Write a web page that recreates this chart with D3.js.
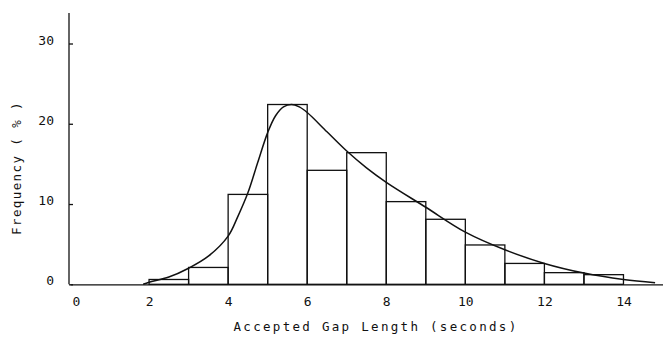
<!DOCTYPE html>
<html>
<head>
<meta charset="utf-8">
<script src="https://cdn.jsdelivr.net/npm/d3@7"></script>
<style>
  body { margin: 0; background: #fff; }
  text { font-family: "DejaVu Sans Mono", monospace; fill: #111; }
</style>
</head>
<body>
<svg id="chart" width="663" height="344"></svg>
<script>
// histogram bins (lower edge, seconds) and frequency (%)
const binStart = [2, 3, 4, 5, 6, 7, 8, 9, 10, 11, 12, 13]
const binFreq = [0.6, 2.1, 11.2, 22.4, 14.2, 16.4, 10.3, 8.1, 4.9, 2.6, 1.45, 1.2]

// fitted curve
const curveX = [1.85, 2.0, 2.5, 3.0, 3.5, 4.0, 4.25, 4.5, 4.75, 5.0, 5.2, 5.4, 5.6, 5.8, 6.0, 6.5, 7.0, 7.5, 8.0, 9.0, 10.0, 11.0, 12.0, 13.0, 14.0, 14.8]
const curveY = [0, 0.25, 0.9, 2.0, 3.5, 6.0, 8.5, 11.4, 15.2, 18.9, 21.0, 22.1, 22.4, 22.1, 21.4, 19.0, 16.6, 14.5, 12.7, 9.6, 6.5, 4.3, 2.6, 1.4, 0.6, 0.2]

const xTicks = [0, 2, 4, 6, 8, 10, 12, 14]
const yTicks = [0, 10, 20, 30]

const svg = d3.select("#chart")

let x = d3.scaleLinear().domain([0, 15]).range([70, 663])
let y = d3.scaleLinear().domain([0, 33.8]).range([284.3, 13])

// bars
svg.selectAll("rect.bar")
  .data(binStart.map((d, i) => ({x0: d, f: binFreq[i]})))
  .enter().append("rect")
  .attr("class", "bar")
  .attr("x", d => x(d.x0))
  .attr("y", d => y(d.f))
  .attr("width", d => x(d.x0 + 1) - x(d.x0))
  .attr("height", d => y(0) - y(d.f))
  .attr("fill", "none")
  .attr("stroke", "#111")
  .attr("stroke-width", 1.3)

// fitted curve
let line = d3.line()
  .x((d, i) => x(curveX[i]))
  .y(d => y(d))
  .curve(d3.curveCatmullRom.alpha(0.5))
svg.append("path")
  .attr("d", line(curveY))
  .attr("fill", "none")
  .attr("stroke", "#111")
  .attr("stroke-width", 1.5)

// x axis
let xAxis = d3.axisBottom(x).tickValues(xTicks).tickSize(0).tickPadding(12).tickFormat(d3.format("d"))
let gx = svg.append("g")
  .attr("transform", "translate(0," + y(0) + ")")
  .call(xAxis)
gx.select(".domain").attr("stroke", "#111").attr("stroke-width", 1.3)
gx.selectAll("text").style("font-size", "13px").style("font-family", "DejaVu Sans Mono")
  .attr("dx", d => d === 0 ? 6 : 0)

// y axis, ticks pointing inward
let yAxis = d3.axisRight(y).tickValues(yTicks).tickSize(4).tickFormat(d3.format("d"))
let gy = svg.append("g")
  .attr("transform", "translate(69,0)")
  .call(yAxis)
gy.select(".domain").attr("stroke", "#111").attr("stroke-width", 1.3)
  .attr("d", "M0," + y(33.8) + "V" + y(0))
gy.selectAll(".tick line").attr("stroke", "#111").attr("stroke-width", 1.3)
gy.selectAll("text")
  .attr("x", -15)
  .attr("dy", "0.05em")
  .attr("text-anchor", "end")
  .style("font-size", "13px")
  .style("font-family", "DejaVu Sans Mono")

// axis titles
svg.append("text")
  .attr("x", 376)
  .attr("y", 331)
  .attr("text-anchor", "middle")
  .style("font-size", "12.5px")
  .style("letter-spacing", "2.3px")
  .text("Accepted Gap Length (seconds)")

svg.append("text")
  .attr("transform", "translate(21,168) rotate(-90)")
  .attr("text-anchor", "middle")
  .style("font-size", "12.5px")
  .style("letter-spacing", "1.4px")
  .text("Frequency ( % )")
</script>
</body>
</html>
